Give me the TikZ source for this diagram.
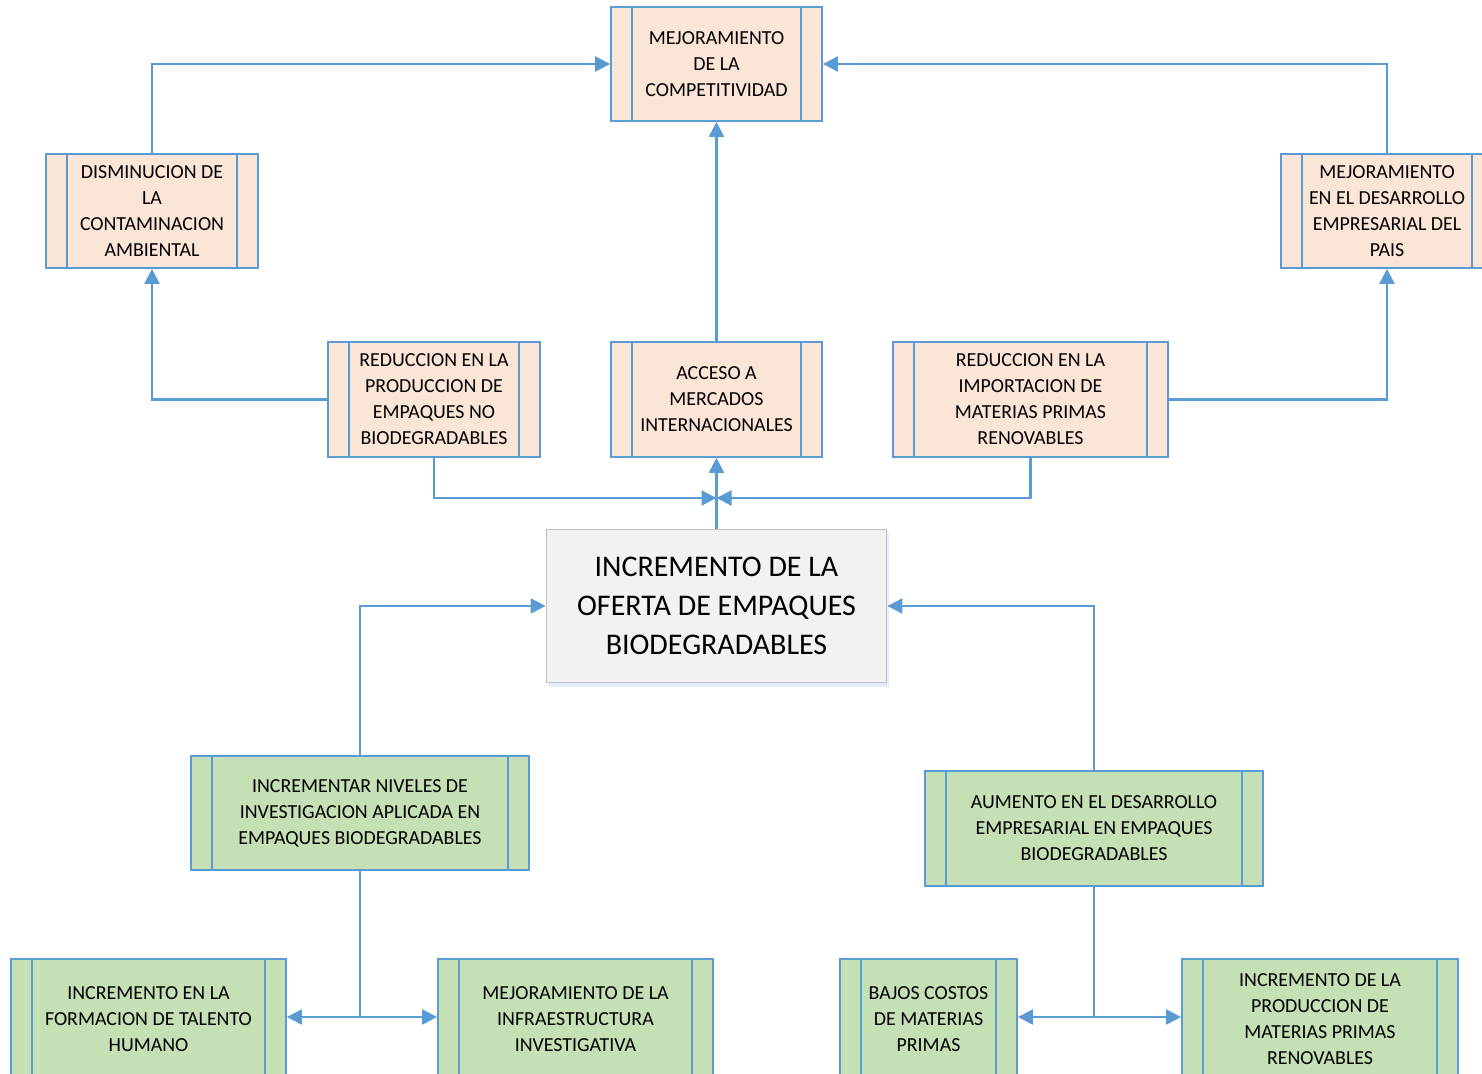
\documentclass[tikz,border=0pt]{standalone}
\usepackage{fontspec}
\setmainfont{Carlito}
\usetikzlibrary{arrows.meta,shadows}
\definecolor{bl}{HTML}{5B9BD5}
\definecolor{peach}{HTML}{FBE5D6}
\definecolor{grn}{HTML}{C5E0B4}
\definecolor{gry}{HTML}{F2F2F2}
\definecolor{gbd}{HTML}{BFBFBF}
\tikzset{
  proc/.style={draw=bl, line width=1.8pt, rectangle, align=center, inner sep=0pt,
    font=\fontsize{19.9}{26}\selectfont,
    path picture={
      \draw[bl, line width=2pt] ([xshift=21pt]path picture bounding box.north west) -- ([xshift=21pt]path picture bounding box.south west);
      \draw[bl, line width=2pt] ([xshift=-21pt]path picture bounding box.north east) -- ([xshift=-21pt]path picture bounding box.south east);
    }},
  pbox/.style={proc, fill=peach},
  gbox/.style={proc, fill=grn},
  conn/.style={draw=bl, line width=2.2pt, -{Triangle[length=15pt,width=15pt]}},
  plain/.style={draw=bl, line width=2.2pt},
}
\begin{document}
\begin{tikzpicture}[x=1pt,y=-1pt]
\useasboundingbox (0,0) rectangle (1482,1073);
\clip (0,0) rectangle (1482,1073);
\fill[white] (0,0) rectangle (1482,1073);
% top level
\node[pbox, minimum width=211pt, minimum height=114pt] (comp) at (716.5,64) {MEJORAMIENTO\\DE LA\\COMPETITIVIDAD};
\node[pbox, minimum width=212pt, minimum height=114pt] (dism) at (152,211) {DISMINUCION DE\\LA\\CONTAMINACION\\AMBIENTAL};
\node[pbox, minimum width=212pt, minimum height=114pt] (mejdes) at (1387,211) {MEJORAMIENTO\\EN EL DESARROLLO\\EMPRESARIAL DEL\\PAIS};
% second level
\node[pbox, minimum width=212pt, minimum height=115pt] (redprod) at (434,399.5) {REDUCCION EN LA\\PRODUCCION DE\\EMPAQUES NO\\BIODEGRADABLES};
\node[pbox, minimum width=211pt, minimum height=115pt] (acceso) at (716.5,399.5) {ACCESO A\\MERCADOS\\INTERNACIONALES};
\node[pbox, minimum width=275pt, minimum height=115pt] (redimp) at (1030.5,399.5) {REDUCCION EN LA\\IMPORTACION DE\\MATERIAS PRIMAS\\RENOVABLES};
% central
\node[draw=gbd, line width=1.8pt, fill=gry, minimum width=340pt, minimum height=153pt, align=center,
  font=\fontsize{30}{39}\selectfont,
  drop shadow={shadow xshift=2pt, shadow yshift=-4pt, fill=bl!35, opacity=0.5}] (central) at (716.5,606) {INCREMENTO DE LA\\OFERTA DE EMPAQUES\\BIODEGRADABLES};
% causes
\node[gbox, minimum width=338pt, minimum height=114pt] (incinv) at (360,813) {INCREMENTAR NIVELES DE\\INVESTIGACION APLICADA EN\\EMPAQUES BIODEGRADABLES};
\node[gbox, minimum width=338pt, minimum height=115pt] (aumento) at (1094,828.5) {AUMENTO EN EL DESARROLLO\\EMPRESARIAL EN EMPAQUES\\BIODEGRADABLES};
\node[gbox, minimum width=275pt, minimum height=120pt] (form) at (148.5,1019) {INCREMENTO EN LA\\FORMACION DE TALENTO\\HUMANO};
\node[gbox, minimum width=275pt, minimum height=120pt] (infra) at (575.5,1019) {MEJORAMIENTO DE LA\\INFRAESTRUCTURA\\INVESTIGATIVA};
\node[gbox, minimum width=177pt, minimum height=120pt] (bajos) at (928.5,1019) {BAJOS COSTOS\\DE MATERIAS\\PRIMAS};
\node[gbox, minimum width=276pt, minimum height=120pt] (incprod) at (1320,1019) {INCREMENTO DE LA\\PRODUCCION DE\\MATERIAS PRIMAS\\RENOVABLES};
% junctions
\coordinate (j) at (716.5,498);
\coordinate (jl) at (360,1017);
\coordinate (jr) at (1094,1017);
% connectors
\draw[conn] (central.north) -- (acceso.south);
\draw[conn] (redprod.south) |- (j);
\draw[conn] (redimp.south) |- (j);
\draw[conn] (acceso.north) -- (comp.south);
\draw[conn] (redprod.west) -| (dism.south);
\draw[conn] (dism.north) |- (comp.west);
\draw[conn] (redimp.east) -| (mejdes.south);
\draw[conn] (mejdes.north) |- (comp.east);
\draw[conn] (incinv.north) |- (central.west);
\draw[conn] (aumento.north) |- (central.east);
\draw[plain] (incinv.south) -- (jl);
\draw[conn] (jl) -- (jl -| form.east);
\draw[conn] (jl) -- (jl -| infra.west);
\draw[plain] (aumento.south) -- (jr);
\draw[conn] (jr) -- (jr -| bajos.east);
\draw[conn] (jr) -- (jr -| incprod.west);
\end{tikzpicture}
\end{document}
